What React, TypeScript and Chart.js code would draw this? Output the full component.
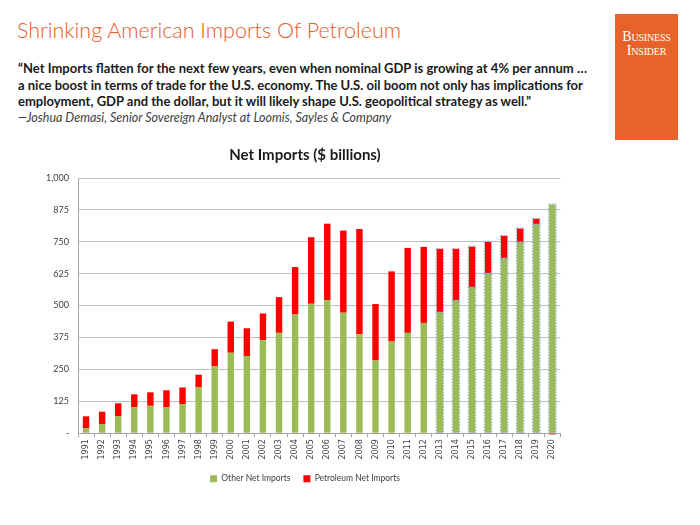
import React, { useEffect, useRef } from "react";
import { Chart, registerables } from "chart.js";

Chart.register(...registerables);

const years = [
  "1991", "1992", "1993", "1994", "1995", "1996", "1997", "1998", "1999", "2000",
  "2001", "2002", "2003", "2004", "2005", "2006", "2007", "2008", "2009", "2010",
  "2011", "2012", "2013", "2014", "2015", "2016", "2017", "2018", "2019", "2020",
];
const otherNetImports = [
  19, 36, 66, 101, 107, 101, 113, 179, 262, 315,
  302, 364, 393, 465, 507, 521, 472, 388, 285, 359,
  393, 432, 473, 520, 571, 626, 685, 749, 818, 896,
];
const petroleumNetImports = [
  47, 48, 51, 51, 53, 67, 66, 50, 67, 122,
  109, 105, 140, 186, 261, 300, 322, 412, 221, 275,
  333, 298, 249, 202, 160, 123, 88, 53, 22, -5,
];
const firstProjectedYear = "2013";
const yTickValues = [0, 125, 250, 375, 500, 625, 750, 875, 1000];

const chartFont = "Lato, 'Open Sans', sans-serif";

const dashedProjection = {
  id: "dashedProjection",
  afterDatasetsDraw(chart: any) {
    const start = years.indexOf(firstProjectedYear);
    const ctx = chart.ctx;
    ctx.save();
    ctx.strokeStyle = "#7FA3CC";
    ctx.lineWidth = 1;
    ctx.setLineDash([1.5, 1.5]);
    chart.data.datasets.forEach((_ds: any, di: number) => {
      const meta = chart.getDatasetMeta(di);
      meta.data.forEach((el: any, i: number) => {
        if (i < start) return;
        const v = (chart.data.datasets[di].data as number[])[i];
        if (v <= 0) return;
        const { x, y, base, width } = el.getProps(["x", "y", "base", "width"], true);
        const top = Math.min(y, base);
        const h = Math.abs(base - y);
        ctx.strokeRect(x - width / 2 - 0.5, top - 0.5, width + 1, h + 1);
      });
    });
    ctx.restore();
  },
};

function NetImportsChart() {
  const ref = useRef<HTMLCanvasElement | null>(null);
  useEffect(() => {
    if (!ref.current) return;
    const chart = new Chart(ref.current, {
      type: "bar",
      data: {
        labels: years,
        datasets: [
          {
            label: "Other Net Imports",
            data: otherNetImports,
            backgroundColor: "#9BBB59",
            categoryPercentage: 1,
            barPercentage: 0.4,
          },
          {
            label: "Petroleum Net Imports",
            data: petroleumNetImports,
            backgroundColor: "#FF0000",
            categoryPercentage: 1,
            barPercentage: 0.4,
            clip: false as any,
          },
        ],
      },
      options: {
        animation: false,
        responsive: false,
        maintainAspectRatio: false,
        layout: { padding: { left: 0, right: 0, top: 0, bottom: 2 } },
        plugins: {
          title: {
            display: true,
            text: "Net Imports ($ billions)",
            color: "#1a1a1a",
            font: { family: chartFont, size: 15, weight: "bold" },
            padding: { top: 8, bottom: 14 },
          },
          legend: {
            position: "bottom",
            labels: {
              boxWidth: 7,
              boxHeight: 7,
              color: "#404040",
              font: { family: chartFont, size: 8.5 },
              padding: 13,
            },
          },
          tooltip: { enabled: false },
        },
        scales: {
          x: {
            stacked: true,
            grid: {
              display: true,
              drawOnChartArea: false,
              drawTicks: true,
              tickLength: 4,
              color: "#A6A6A6",
              offset: true,
            },
            border: { color: "#A6A6A6" },
            ticks: {
              minRotation: 90,
              maxRotation: 90,
              color: "#404040",
              font: { family: "'DejaVu Sans', sans-serif", size: 8 },
              padding: 2,
              autoSkip: false,
            },
          },
          y: {
            stacked: true,
            min: 0,
            max: 1000,
            afterBuildTicks(scale: any) {
              scale.ticks = yTickValues.map((v) => ({ value: v }));
            },
            afterFit(scale: any) {
              scale.width = 32;
            },
            grid: { color: "#BFBFBF", lineWidth: 1, drawTicks: false },
            border: { color: "#A6A6A6" },
            ticks: {
              color: "#404040",
              font: { family: chartFont, size: 9 },
              padding: 9,
              callback: (v: any) => (Number(v) === 0 ? "-" : Number(v).toLocaleString("en-US")),
            },
          },
        },
      },
      plugins: [dashedProjection],
    });
    return () => chart.destroy();
  }, []);
  return (
    <canvas
      ref={ref}
      width={518}
      height={357}
      style={{ position: "absolute", left: 46, top: 138, width: 518, height: 357 }}
    />
  );
}

export default function App() {
  const quoteStyle: React.CSSProperties = {
    position: "absolute",
    left: 18,
    whiteSpace: "nowrap",
    fontFamily: "Lato, 'Open Sans', sans-serif",
    fontWeight: 700,
    fontSize: 13,
    color: "#1a1a1a",
    letterSpacing: 0,
  };
  return (
    <div style={{ position: "absolute", left: 0, top: 0, width: 700, height: 525, background: "#ffffff", overflow: "hidden" }}>
      <div
        style={{
          position: "absolute",
          left: 17,
          top: 17,
          whiteSpace: "nowrap",
          fontFamily: "Lato, 'Open Sans', sans-serif",
          fontWeight: 300,
          fontSize: 21.5,
          color: "#E8582A",
        }}
      >
        Shrinking American Imports Of Petroleum
      </div>
      <div style={{ ...quoteStyle, top: 60 }}>
        “Net Imports flatten for the next few years, even when nominal GDP is growing at 4% per annum …
      </div>
      <div style={{ ...quoteStyle, top: 76.5 }}>
        a nice boost in terms of trade for the U.S. economy. The U.S. oil boom not only has implications for
      </div>
      <div style={{ ...quoteStyle, top: 93 }}>
        employment, GDP and the dollar, but it will likely shape U.S. geopolitical strategy as well.”
      </div>
      <div
        style={{
          position: "absolute",
          left: 18,
          top: 110,
          whiteSpace: "nowrap",
          fontFamily: "Lato, 'Open Sans', sans-serif",
          fontStyle: "italic",
          fontSize: 12.5,
          color: "#404040",
        }}
      >
        —Joshua Demasi, Senior Sovereign Analyst at Loomis, Sayles &amp; Company
      </div>
      <div
        style={{
          position: "absolute",
          left: 615,
          top: 14,
          width: 63,
          height: 126,
          background: "#E8622A",
          color: "#ffffff",
          fontFamily: "'Liberation Serif', 'DejaVu Serif', serif",
          textAlign: "center",
          fontSize: 14,
          lineHeight: "14px",
          letterSpacing: -0.2,
          fontVariant: "small-caps",
          paddingTop: 16,
          boxSizing: "border-box",
        }}
      >
        <div>Business</div>
        <div>Insider</div>
      </div>
      <NetImportsChart />
    </div>
  );
}
